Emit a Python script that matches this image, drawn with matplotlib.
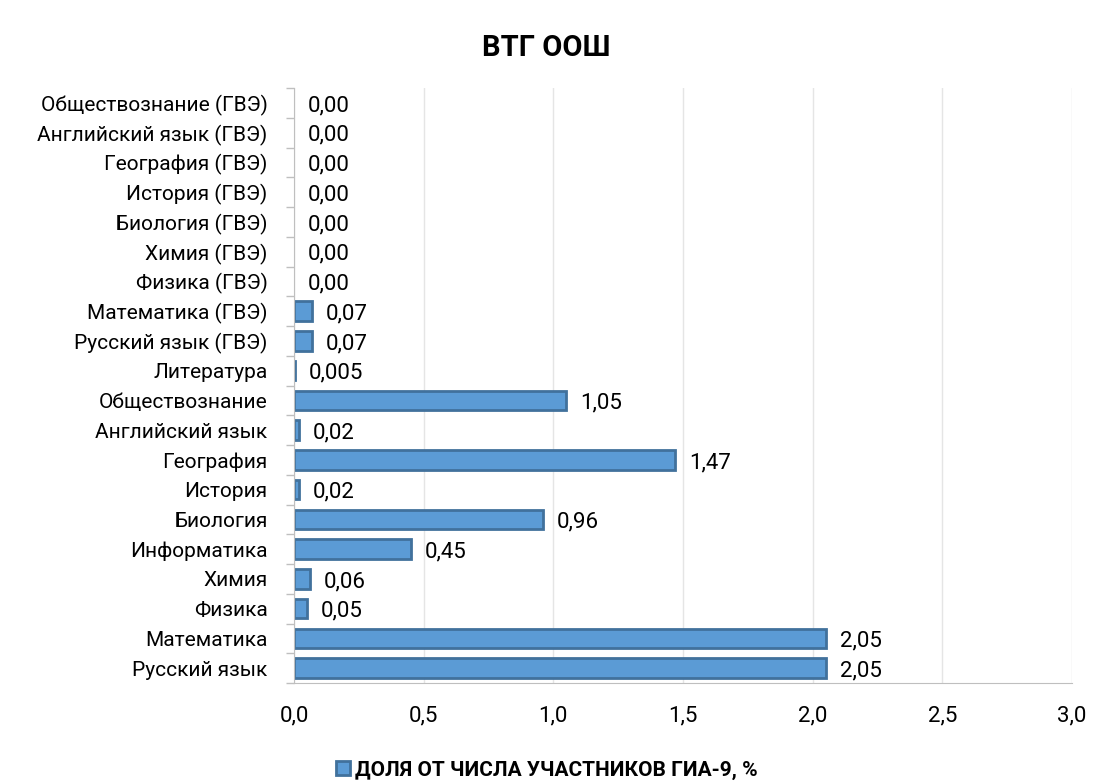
import numpy as np
from matplotlib import pyplot as plt

# data
categories = [
    "Русский язык", "Математика", "Физика", "Химия", "Информатика",
    "Биология", "История", "География", "Английский язык", "Обществознание",
    "Литература", "Русский язык (ГВЭ)", "Математика (ГВЭ)", "Физика (ГВЭ)",
    "Химия (ГВЭ)", "Биология (ГВЭ)", "История (ГВЭ)", "География (ГВЭ)",
    "Английский язык (ГВЭ)", "Обществознание (ГВЭ)",
]
values = [2.05, 2.05, 0.05, 0.06, 0.45, 0.96, 0.02, 1.47, 0.02, 1.05,
          0.005, 0.07, 0.07, 0.0, 0.0, 0.0, 0.0, 0.0, 0.0, 0.0]
value_labels = ["2,05", "2,05", "0,05", "0,06", "0,45", "0,96", "0,02", "1,47",
                "0,02", "1,05", "0,005", "0,07", "0,07", "0,00", "0,00", "0,00",
                "0,00", "0,00", "0,00", "0,00"]
x_ticks = [0.0, 0.5, 1.0, 1.5, 2.0, 2.5, 3.0]
series_name = "ДОЛЯ ОТ ЧИСЛА УЧАСТНИКОВ ГИА-9, %"

plt.rcParams['font.family'] = ['Roboto', 'DejaVu Sans']

fig = plt.figure(figsize=(10.93, 7.84), dpi=100)
ax = fig.add_axes([294 / 1093, 1 - 683 / 784, (1072 - 294) / 1093, (683 - 88) / 784])

y = np.arange(len(categories))
# no outline on empty bars
edge_widths = [2 if v > 0 else 0 for v in values]
bars = ax.barh(y, values, height=0.66, color="#5B9BD5", edgecolor="#41719C",
               linewidth=edge_widths, label=series_name)

for yi, v, lab in zip(y, values, value_labels):
    ax.annotate(lab, (v, yi), xytext=(10, -2), textcoords="offset points",
                va="center", ha="left", fontsize=16, color="#000000")

ax.set_xlim(0, 3.0)
ax.set_ylim(-0.5, len(categories) - 0.5)
ax.set_xticks(x_ticks)
ax.set_xticklabels([f"{t:.1f}".replace(".", ",") for t in x_ticks], fontsize=16)
ax.tick_params(axis="x", length=0, pad=16)

ax.set_yticks(y)
ax.set_yticklabels(categories, fontsize=15)
ax.set_yticks(np.arange(-0.5, len(categories), 1), minor=True)
ax.tick_params(axis="y", which="major", length=0, pad=19)
ax.tick_params(axis="y", which="minor", length=6, color="#BFBFBF", width=1)

ax.grid(axis="x", color="#E5E5E5", linewidth=1)
ax.set_axisbelow(True)
for s in ["top", "right"]:
    ax.spines[s].set_visible(False)
ax.spines["left"].set_color("#BFBFBF")
ax.spines["bottom"].set_color("#BFBFBF")

fig.text(0.5, 1 - 48 / 784, "ВТГ ООШ", ha="center", va="center",
         fontsize=21, fontweight="bold")

leg = fig.legend(handles=[bars], labels=[series_name], loc="center",
                 bbox_to_anchor=(0.5, 1 - 770 / 784), frameon=False,
                 prop={"size": 15, "weight": "bold"}, handlelength=0.7,
                 handleheight=0.7, handletextpad=0.2)

fig.savefig("out.png", dpi=100)
